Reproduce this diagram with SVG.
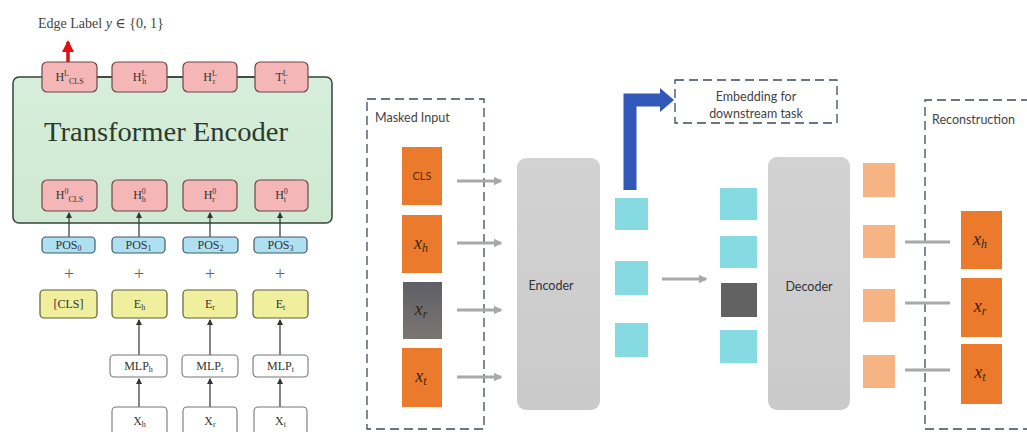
<svg xmlns="http://www.w3.org/2000/svg" width="1027" height="432" viewBox="0 0 1027 432">
<defs>
<linearGradient id="gGreen" x1="0" y1="0" x2="0" y2="1"><stop offset="0" stop-color="#d6eedb"/><stop offset="1" stop-color="#cfe9d2"/></linearGradient>
<linearGradient id="gGray" x1="0" y1="0" x2="0" y2="1"><stop offset="0" stop-color="#d2d2d2"/><stop offset="1" stop-color="#cacaca"/></linearGradient>
<linearGradient id="gMask" x1="0" y1="0" x2="0" y2="1"><stop offset="0" stop-color="#5f5f66"/><stop offset="1" stop-color="#7a7672"/></linearGradient>
<marker id="mBlk" viewBox="0 0 6 6" refX="5" refY="3" markerWidth="5" markerHeight="5" orient="auto"><path d="M0,0 L6,3 L0,6 z" fill="#333"/></marker>
<marker id="mRed" viewBox="0 0 6 6" refX="5" refY="3" markerWidth="3.5" markerHeight="3.5" orient="auto"><path d="M0,0 L6,3 L0,6 z" fill="#e01010"/></marker>
<marker id="mGr" viewBox="0 0 6 6" refX="5" refY="3" markerWidth="3" markerHeight="3" orient="auto"><path d="M0,0 L6,3 L0,6 z" fill="#a8a8a8"/></marker>
</defs>
<style>
.serif{font-family:"Liberation Serif","DejaVu Serif",serif;}
.sans{font-family:"Lato","Open Sans","Liberation Sans",sans-serif;}
.lbl{font-size:12px;fill:#333;text-anchor:middle;}
.red{fill:#f4b6b6;stroke:#6a4848;stroke-width:1.2;}
.pos{fill:#aee0f2;stroke:#3e5a66;stroke-width:1.2;}
.yel{fill:#f0ef9e;stroke:#5e5e3a;stroke-width:1.2;}
.wht{fill:#ffffff;stroke:#777;stroke-width:1.1;}
.conn{stroke:#333;stroke-width:1.2;fill:none;}
.dash{fill:none;stroke:#3c4a5c;stroke-width:1.3;stroke-dasharray:9,5;}
.org{fill:#ec7a2c;}
.pale{fill:#f6b485;}
.cyan{fill:#86dbe3;}
.garr{stroke:#a8a8a8;stroke-width:3;fill:none;}
.mx{font-family:"Liberation Serif",serif;font-style:italic;font-size:18px;fill:#3a2410;text-anchor:middle;}
</style>
<rect width="1027" height="432" fill="#ffffff"/>

<!-- LEFT PANEL -->
<text class="serif" x="38" y="28" font-size="14" fill="#444">Edge Label <tspan font-style="italic">y</tspan> ∈ {0, 1}</text>
<g id="encoder-box"><rect x="13" y="77" width="319" height="146" rx="6" fill="url(#gGreen)" stroke="#34443a" stroke-width="1.5"/>
<text class="serif" x="166" y="141" font-size="27" fill="#2a3a2c" text-anchor="middle" textLength="244" lengthAdjust="spacingAndGlyphs">Transformer Encoder</text></g>

<g id="connectors-left">
<line x1="97" y1="77" x2="112" y2="77" class="conn"/>
<line x1="167" y1="77" x2="183" y2="77" class="conn"/>
<line x1="237" y1="77" x2="255" y2="77" class="conn"/>
<line x1="68" y1="62" x2="68" y2="42" stroke="#e01010" stroke-width="3.5" marker-end="url(#mRed)"/>
<line x1="69" y1="237" x2="69" y2="213" class="conn" marker-end="url(#mBlk)"/>
<line x1="139" y1="237" x2="139" y2="213" class="conn" marker-end="url(#mBlk)"/>
<line x1="210" y1="237" x2="210" y2="213" class="conn" marker-end="url(#mBlk)"/>
<line x1="280" y1="237" x2="280" y2="213" class="conn" marker-end="url(#mBlk)"/>
<line x1="139" y1="355" x2="139" y2="320" class="conn" marker-end="url(#mBlk)"/>
<line x1="210" y1="355" x2="210" y2="320" class="conn" marker-end="url(#mBlk)"/>
<line x1="280" y1="355" x2="280" y2="320" class="conn" marker-end="url(#mBlk)"/>
<line x1="139" y1="407" x2="139" y2="379" class="conn" marker-end="url(#mBlk)"/>
<line x1="210" y1="407" x2="210" y2="379" class="conn" marker-end="url(#mBlk)"/>
<line x1="280" y1="407" x2="280" y2="379" class="conn" marker-end="url(#mBlk)"/>
</g>

<g id="hL-cls"><rect class="red" x="42" y="62" width="55" height="30" rx="5"/><text class="serif lbl" x="69.5" y="81">H<tspan font-size="8" dy="-5">L</tspan><tspan font-size="8" dy="8">CLS</tspan></text></g>
<g id="hL-h"><rect class="red" x="112" y="62" width="55" height="30" rx="5"/><text class="serif lbl" x="139.5" y="81">H<tspan font-size="8" dy="-5">L</tspan><tspan font-size="8" dx="-4" dy="8">h</tspan></text></g>
<g id="hL-r"><rect class="red" x="183" y="62" width="54" height="30" rx="5"/><text class="serif lbl" x="210" y="81">H<tspan font-size="8" dy="-5">L</tspan><tspan font-size="8" dx="-4" dy="8">r</tspan></text></g>
<g id="tL-t"><rect class="red" x="255" y="62" width="53" height="30" rx="5"/><text class="serif lbl" x="281.5" y="81">T<tspan font-size="8" dy="-5">L</tspan><tspan font-size="8" dx="-4" dy="8">t</tspan></text></g>

<g id="h0-cls"><rect class="red" x="42" y="180" width="55" height="31" rx="5"/><text class="serif lbl" x="69.5" y="199">H<tspan font-size="8" dy="-5">0</tspan><tspan font-size="8" dy="8">CLS</tspan></text></g>
<g id="h0-h"><rect class="red" x="112" y="180" width="55" height="31" rx="5"/><text class="serif lbl" x="139.5" y="199">H<tspan font-size="8" dy="-5">0</tspan><tspan font-size="8" dx="-4" dy="8">h</tspan></text></g>
<g id="h0-r"><rect class="red" x="183" y="180" width="54" height="31" rx="5"/><text class="serif lbl" x="210" y="199">H<tspan font-size="8" dy="-5">0</tspan><tspan font-size="8" dx="-4" dy="8">r</tspan></text></g>
<g id="h0-t"><rect class="red" x="255" y="180" width="53" height="31" rx="5"/><text class="serif lbl" x="281.5" y="199">H<tspan font-size="8" dy="-5">0</tspan><tspan font-size="8" dx="-4" dy="8">t</tspan></text></g>

<g id="pos0"><rect class="pos" x="42" y="237" width="53" height="16" rx="4"/><text class="serif lbl" x="68.5" y="249">POS<tspan font-size="8" dy="2">0</tspan></text></g>
<g id="pos1"><rect class="pos" x="112" y="237" width="53" height="16" rx="4"/><text class="serif lbl" x="138.5" y="249">POS<tspan font-size="8" dy="2">1</tspan></text></g>
<g id="pos2"><rect class="pos" x="183" y="237" width="55" height="16" rx="4"/><text class="serif lbl" x="210.5" y="249">POS<tspan font-size="8" dy="2">2</tspan></text></g>
<g id="pos3"><rect class="pos" x="254" y="237" width="53" height="16" rx="4"/><text class="serif lbl" x="280.5" y="249">POS<tspan font-size="8" dy="2">3</tspan></text></g>

<g id="plus" class="serif" font-size="18" fill="#666" text-anchor="middle">
<text x="69" y="280">+</text><text x="139" y="280">+</text><text x="210" y="280">+</text><text x="280" y="280">+</text></g>

<g id="e-cls"><rect class="yel" x="40" y="290" width="57" height="28" rx="4"/><text class="serif lbl" x="68.5" y="308">[CLS]</text></g>
<g id="e-h"><rect class="yel" x="112" y="290" width="55" height="28" rx="4"/><text class="serif lbl" x="139.5" y="308">E<tspan font-size="8" dy="2">h</tspan></text></g>
<g id="e-r"><rect class="yel" x="183" y="290" width="54" height="28" rx="4"/><text class="serif lbl" x="210" y="308">E<tspan font-size="8" dy="2">r</tspan></text></g>
<g id="e-t"><rect class="yel" x="253" y="290" width="55" height="28" rx="4"/><text class="serif lbl" x="280.5" y="308">E<tspan font-size="8" dy="2">t</tspan></text></g>

<g id="mlp-h"><rect class="wht" x="110" y="355" width="57" height="22" rx="4"/><text class="serif lbl" x="138.5" y="370">MLP<tspan font-size="8" dy="2">h</tspan></text></g>
<g id="mlp-r"><rect class="wht" x="182" y="355" width="56" height="22" rx="4"/><text class="serif lbl" x="210" y="370">MLP<tspan font-size="8" dy="2">r</tspan></text></g>
<g id="mlp-t"><rect class="wht" x="253" y="355" width="55" height="22" rx="4"/><text class="serif lbl" x="280.5" y="370">MLP<tspan font-size="8" dy="2">t</tspan></text></g>

<g id="x-h"><rect class="wht" x="112" y="407" width="55" height="32" rx="4"/><text class="serif lbl" x="139.5" y="425">X<tspan font-size="8" dy="2">h</tspan></text></g>
<g id="x-r"><rect class="wht" x="183" y="407" width="54" height="32" rx="4"/><text class="serif lbl" x="210" y="425">X<tspan font-size="8" dy="2">r</tspan></text></g>
<g id="x-t"><rect class="wht" x="254" y="407" width="53" height="32" rx="4"/><text class="serif lbl" x="280.5" y="425">X<tspan font-size="8" dy="2">t</tspan></text></g>

<!-- RIGHT PANEL -->
<g id="masked-input"><rect class="dash" x="367" y="99" width="117" height="330"/>
<text class="sans" x="375" y="122" font-size="12.5" fill="#444">Masked Input</text></g>

<g id="embed-box"><rect class="dash" x="675" y="80" width="162" height="43"/>
<text class="sans" x="756" y="101" font-size="12.5" fill="#444" text-anchor="middle">Embedding for</text>
<text class="sans" x="756" y="118" font-size="12.5" fill="#444" text-anchor="middle">downstream task</text></g>

<g id="recon-box"><path class="dash" d="M1030,100 H925 V429 H1030"/>
<text class="sans" x="932" y="124" font-size="12.5" fill="#444">Reconstruction</text></g>

<g id="connectors-right">
<path d="M630,190 V100 H662" fill="none" stroke="#3158b8" stroke-width="13"/>
<path d="M660,88 L674,100 L660,112 z" fill="#3158b8"/>
<line x1="457" y1="181" x2="501" y2="181" class="garr" marker-end="url(#mGr)"/>
<line x1="457" y1="243" x2="501" y2="243" class="garr" marker-end="url(#mGr)"/>
<line x1="457" y1="310" x2="501" y2="310" class="garr" marker-end="url(#mGr)"/>
<line x1="457" y1="377" x2="501" y2="377" class="garr" marker-end="url(#mGr)"/>
<line x1="662" y1="279" x2="706" y2="279" class="garr" marker-end="url(#mGr)"/>
<line x1="905" y1="242" x2="950" y2="242" class="garr"/>
<line x1="905" y1="303" x2="950" y2="303" class="garr"/>
<line x1="905" y1="370" x2="950" y2="370" class="garr"/>
</g>

<g id="in-cls"><rect class="org" x="402" y="147" width="40" height="58"/><text class="sans" x="422" y="180" font-size="11" fill="#5a2a08" text-anchor="middle">CLS</text></g>
<g id="in-xh"><rect class="org" x="402" y="215" width="40" height="58"/><text class="mx" x="421" y="249">x<tspan font-size="12" dy="3">h</tspan></text></g>
<g id="in-xr"><rect x="403" y="282" width="39" height="57" fill="url(#gMask)"/><text class="mx" x="421" y="315" fill="#111">x<tspan font-size="12" dy="3">r</tspan></text></g>
<g id="in-xt"><rect class="org" x="402" y="348" width="40" height="59"/><text class="mx" x="421" y="382">x<tspan font-size="12" dy="3">t</tspan></text></g>

<g id="encoder"><rect x="517" y="158" width="83" height="252" rx="9" fill="url(#gGray)"/><text class="sans" x="551" y="290" font-size="12.5" fill="#333" text-anchor="middle">Encoder</text></g>

<g id="emb1"><rect class="cyan" x="615" y="198" width="33" height="32"/></g>
<g id="emb2"><rect class="cyan" x="615" y="261" width="33" height="34"/></g>
<g id="emb3"><rect class="cyan" x="615" y="323" width="33" height="34"/></g>

<g id="dec-in1"><rect class="cyan" x="720" y="188" width="37" height="32"/></g>
<g id="dec-in2"><rect class="cyan" x="720" y="236" width="37" height="32"/></g>
<g id="dec-in3"><rect x="721" y="283" width="36" height="34" fill="#626262"/></g>
<g id="dec-in4"><rect class="cyan" x="720" y="330" width="37" height="33"/></g>

<g id="decoder"><rect x="768" y="157" width="82" height="253" rx="9" fill="url(#gGray)"/><text class="sans" x="809" y="291" font-size="12.5" fill="#333" text-anchor="middle">Decoder</text></g>

<g id="out1"><rect class="pale" x="863" y="163" width="32" height="34"/></g>
<g id="out2"><rect class="pale" x="863" y="225" width="32" height="33"/></g>
<g id="out3"><rect class="pale" x="863" y="289" width="32" height="33"/></g>
<g id="out4"><rect class="pale" x="863" y="355" width="32" height="33"/></g>

<g id="rec-xh"><rect class="org" x="961" y="211" width="41" height="58"/><text class="mx" x="980" y="245">x<tspan font-size="12" dy="3">h</tspan></text></g>
<g id="rec-xr"><rect class="org" x="961" y="278" width="41" height="59"/><text class="mx" x="980" y="312">x<tspan font-size="12" dy="3">r</tspan></text></g>
<g id="rec-xt"><rect class="org" x="961" y="344" width="41" height="60"/><text class="mx" x="980" y="378">x<tspan font-size="12" dy="3">t</tspan></text></g>
</svg>
